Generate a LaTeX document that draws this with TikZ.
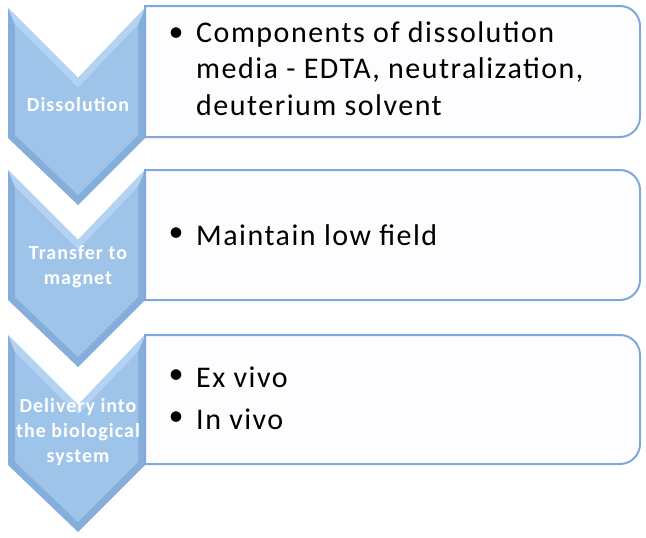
\documentclass[tikz,border=0pt]{standalone}
\usepackage{fontspec}
\setmainfont{Carlito}
\definecolor{chevout}{HTML}{86AEDB}
\definecolor{chevin}{HTML}{9FC4EA}
\definecolor{chevlight}{HTML}{B4D2F1}
\definecolor{boxline}{HTML}{7FA9DA}
\definecolor{boxfill}{HTML}{FDFDFF}
\tikzset{
  chevtext/.style={text=white, font=\fontsize{20}{25}\selectfont\bfseries\addfontfeatures{LetterSpace=5}, align=center, inner sep=0pt},
  boxtext/.style={text=black, font=\fontsize{30}{35}\selectfont\addfontfeatures{LetterSpace=5}, anchor=west, inner sep=0pt},
  bul/.style={text=black, font=\fontsize{30}{35}\selectfont, inner sep=0pt},
  boxframe/.style={draw=boxline, line width=2pt, fill=boxfill},
}
\newcommand{\chevron}[1]{%
  \fill[chevout] (8,#1) -- (78,#1+70) -- (145,#1) -- (145,#1+130) -- (78,#1+197) -- (8,#1+130) -- cycle;
  \fill[chevlight] (8,#1) -- (78,#1+70) -- (145,#1) -- (138,#1+17) -- (78,#1+80) -- (15,#1+17) -- cycle;
  \fill[chevin] (15,#1+17) -- (78,#1+80) -- (138,#1+17) -- (138,#1+127) -- (78,#1+187) -- (15,#1+127) -- cycle;
}
\newcommand{\rbox}[2]{%
  \draw[boxframe] (145,#1) -- (620,#1) .. controls (631,#1) and (640,#1+9) .. (640,#1+20) -- (640,#2-20) .. controls (640,#2-9) and (631,#2) .. (620,#2) -- (145,#2) -- cycle;
}
\begin{document}
\begin{tikzpicture}[x=1pt,y=-1pt]
\useasboundingbox (0,0) rectangle (646,538);
\fill[white] (0,0) rectangle (646,538);
\chevron{8}
\chevron{170}
\chevron{335}
\rbox{6}{137}
\rbox{170}{300}
\rbox{335}{464}
% chevron labels
\node[chevtext] (c1) at (78,105) {Dissolution};
\node[chevtext] (c2) at (78,267) {Transfer to\\magnet};
\node[chevtext] (c3) at (78,432) {Delivery into\\the biological\\system};
% box 1
\node[bul] (b1) at (176,35) {\textbullet};
\node[boxtext] (t1a) at (196,35) {Components of dissolution};
\node[boxtext] (t1b) at (196,70) {media - EDTA, neutralization,};
\node[boxtext] (t1c) at (196,105) {deuterium solvent};
% box 2
\node[bul] (b2) at (176,235) {\textbullet};
\node[boxtext] (t2a) at (196,235) {Maintain low field};
% box 3
\node[bul] (b3) at (176,377) {\textbullet};
\node[boxtext] (t3a) at (196,377) {Ex vivo};
\node[bul] (b4) at (176,419) {\textbullet};
\node[boxtext] (t3b) at (196,419) {In vivo};
\end{tikzpicture}
\end{document}
